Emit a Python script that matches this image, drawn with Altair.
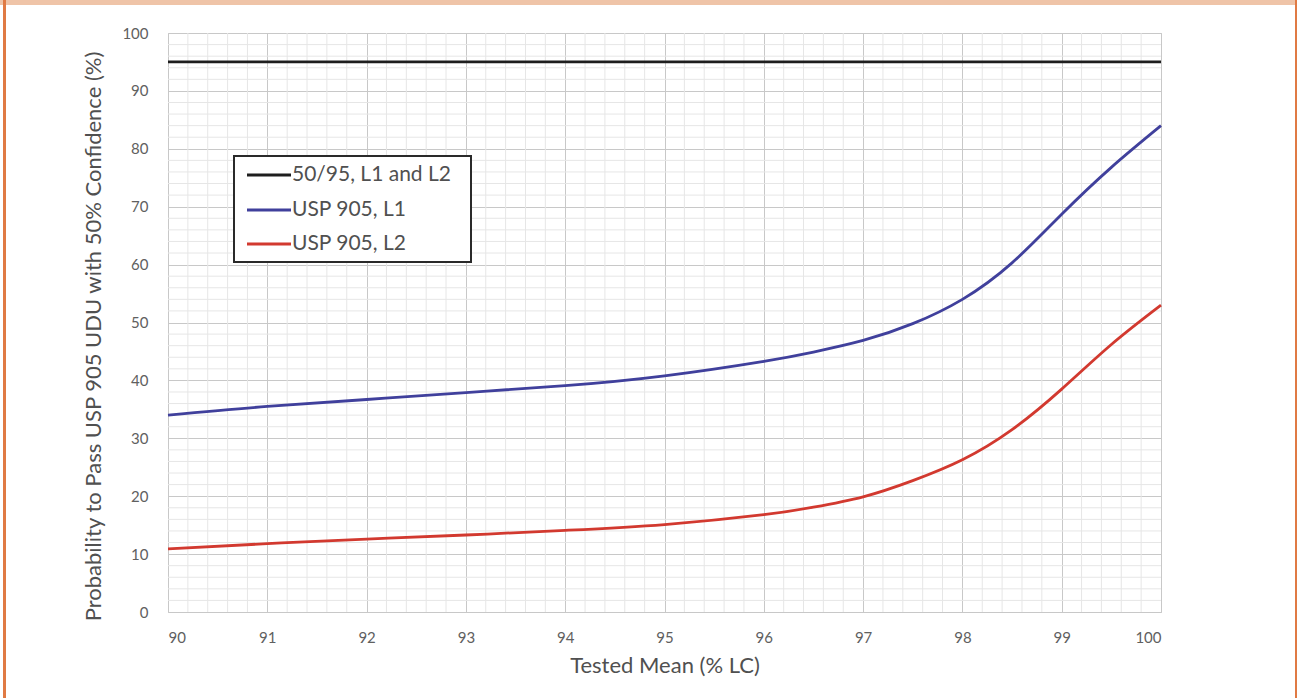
import altair as alt
import numpy as np
import pandas as pd

# Tested mean (% LC) at which the curves were read
tested_mean = [90, 91, 92, 93, 94, 95, 96, 96.5, 97, 97.5, 98, 98.5, 99, 99.5, 100]
# Probability (%) to pass USP 905 UDU with 50% confidence
usp905_l1 = [34.0, 35.5, 36.7, 37.9, 39.1, 40.8, 43.3, 44.9, 46.9, 49.8, 54.0, 60.3, 68.7, 76.8, 84.0]
usp905_l2 = [10.9, 11.8, 12.6, 13.3, 14.1, 15.1, 16.8, 18.1, 19.9, 22.7, 26.3, 31.5, 38.5, 46.2, 53.0]
# 50/95 criterion (flat line)
ref_x = [90, 100]
ref_5095 = [95, 95]

series_names = ["50/95, L1 and L2", "USP 905, L1", "USP 905, L2"]
series_colors = ["#1e1e1e", "#40409c", "#d2392f"]

x_ticks = list(range(90, 101))
y_ticks = list(range(0, 101, 10))

FONT = "Lato"
W, H = 993, 579
LEFT, TOP = 168, 33

rows = []
for x, v in zip(ref_x, ref_5095):
    rows.append({"mean": x, "prob": v, "series": series_names[0]})
for x, v in zip(tested_mean, usp905_l1):
    rows.append({"mean": x, "prob": v, "series": series_names[1]})
for x, v in zip(tested_mean, usp905_l2):
    rows.append({"mean": x, "prob": v, "series": series_names[2]})
df = pd.DataFrame(rows)

xscale = alt.Scale(domain=[90, 100], nice=False, zero=False)
yscale = alt.Scale(domain=[0, 100], nice=False)
color_scale = alt.Scale(domain=series_names, range=series_colors)

# minor gridlines: 5 subdivisions per major step
minor_x = [round(v, 1) for v in np.arange(90, 100.01, 0.2) if abs(v - round(v)) > 1e-6]
minor_y = [v for v in range(0, 101, 2) if v % 10 != 0]

minor_v = alt.Chart(pd.DataFrame({"mean": minor_x})).mark_rule(
    color="#e6e6e6", strokeWidth=1
).encode(x=alt.X("mean:Q", scale=xscale))
minor_h = alt.Chart(pd.DataFrame({"prob": minor_y})).mark_rule(
    color="#e6e6e6", strokeWidth=1
).encode(y=alt.Y("prob:Q", scale=yscale))

lines = alt.Chart(df).mark_line(strokeWidth=2.8, interpolate="natural").encode(
    x=alt.X(
        "mean:Q",
        scale=xscale,
        axis=alt.Axis(
            values=x_ticks,
            format="d",
            title="Tested Mean (% LC)",
            grid=True,
            gridColor="#c8c8c8",
            domain=False,
            ticks=False,
            labelPadding=18,
            labelFontSize=15,
            labelColor="#606060",
            labelFont=FONT,
            titleFont=FONT,
            titleFontSize=22,
            titleFontWeight="normal",
            titleColor="#505050",
            titlePadding=10,
        ),
    ),
    y=alt.Y(
        "prob:Q",
        scale=yscale,
        axis=alt.Axis(
            values=y_ticks,
            format="d",
            title="Probability to Pass USP 905 UDU with 50% Confidence (%)",
            grid=True,
            gridColor="#c8c8c8",
            domain=False,
            ticks=False,
            labelPadding=20,
            labelFontSize=15,
            labelColor="#606060",
            labelFont=FONT,
            titleFont=FONT,
            titleFontSize=22,
            titleFontWeight="normal",
            titleColor="#505050",
            titlePadding=16,
            titleY=303,
        ),
    ),
    color=alt.Color("series:N", scale=color_scale, legend=None),
    detail="series:N",
)

# legend box drawn inside the plot
leg = pd.DataFrame({
    "series": series_names,
    "ly": [142, 177, 211],
})
legend_box = alt.Chart(pd.DataFrame({"a": [0]})).mark_rect(
    fill="white", stroke="#2a2a2a", strokeWidth=2
).encode(x=alt.value(66), x2=alt.value(303), y=alt.value(123), y2=alt.value(229))
legend_lines = alt.Chart(leg).mark_rule(strokeWidth=2.8).encode(
    x=alt.value(79), x2=alt.value(123), y=alt.Y("ly:Q", scale=None),
    color=alt.Color("series:N", scale=color_scale, legend=None),
)
legend_text = alt.Chart(leg).mark_text(
    align="left", baseline="middle", font=FONT, fontSize=21, color="#505050"
).encode(x=alt.value(124), y=alt.Y("ly:Q", scale=None), text="series:N")

# page frame
frame_top = alt.Chart(pd.DataFrame({"a": [0]})).mark_rect(fill="#efc4a8").encode(
    x=alt.value(-LEFT), x2=alt.value(1296 - LEFT), y=alt.value(-TOP), y2=alt.value(5 - TOP)
)
frame_left = alt.Chart(pd.DataFrame({"a": [0]})).mark_rect(fill="#e07a44").encode(
    x=alt.value(3 - LEFT), x2=alt.value(6 - LEFT), y=alt.value(-TOP), y2=alt.value(698 - TOP)
)
frame_right = alt.Chart(pd.DataFrame({"a": [0]})).mark_rect(fill="#e07a44").encode(
    x=alt.value(1295 - LEFT), x2=alt.value(1297 - LEFT), y=alt.value(-TOP), y2=alt.value(698 - TOP)
)

chart = alt.layer(
    minor_v, minor_h, lines, legend_box, legend_lines, legend_text,
    frame_top, frame_left, frame_right,
).properties(
    width=W,
    height=H,
    autosize=alt.AutoSizeParams(type="none"),
    padding={"left": LEFT, "top": TOP, "right": 1300 - LEFT - W, "bottom": 698 - TOP - H},
    background="white",
).configure_view(stroke="#c8c8c8", strokeWidth=1)

chart.save("out.html", embed_options={"renderer": "svg", "actions": False})
